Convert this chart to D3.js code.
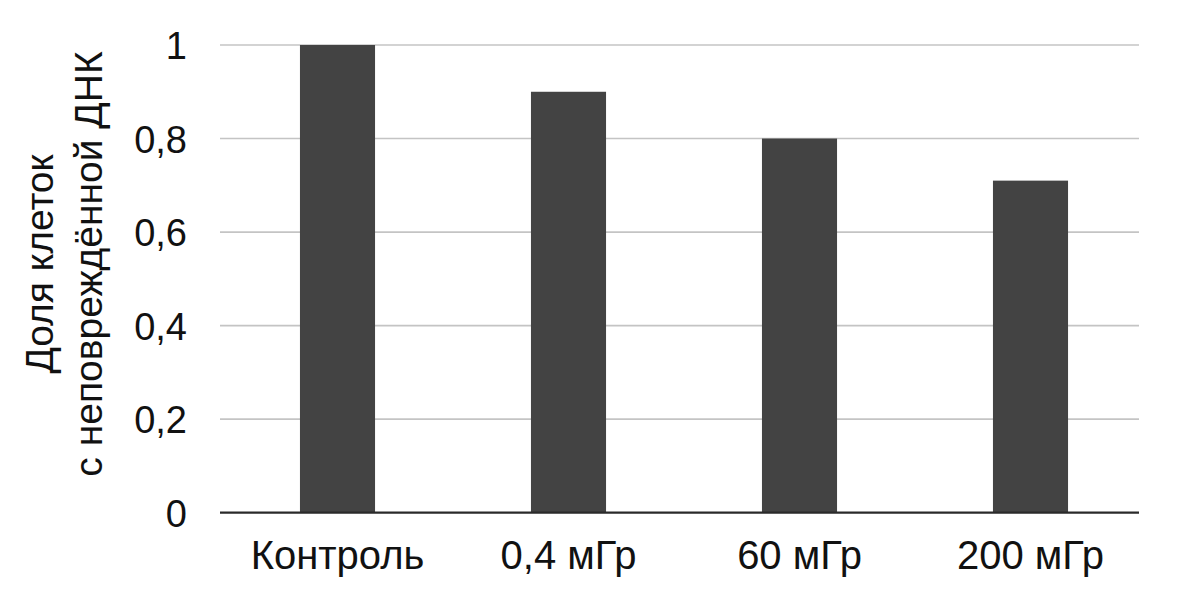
<!DOCTYPE html>
<html>
<head>
<meta charset="utf-8">
<script src="https://cdn.jsdelivr.net/npm/d3@7"></script>
<style>
  body { margin: 0; background: #fff; }
  text { font-family: "Liberation Sans", Arial, sans-serif; fill: #111; }
</style>
</head>
<body>
<div id="chart"></div>
<script>
const categories = ['Контроль', '0,4 мГр', '60 мГр', '200 мГр'];
const values = [1, 0.9, 0.8, 0.71];
const yTicks = [0, 0.2, 0.4, 0.6, 0.8, 1];
const yLabelLines = ['Доля клеток', 'с неповреждённой ДНК'];

const width = 1179;
const height = 593;
const margin = { top: 45, right: 40, bottom: 80, left: 220 };
const plotRight = 1139;

const svg = d3
  .select('#chart')
  .append('svg')
  .attr('width', width)
  .attr('height', height);

const xScale = d3
  .scaleBand()
  .domain(categories)
  .range([margin.left + 2, 1146])
  .paddingInner(0.675)
  .paddingOuter(0.3375);

const yScale = d3
  .scaleLinear()
  .domain([0, 1])
  .range([512.7, margin.top]);

// gridlines
svg
  .append('g')
  .selectAll('line')
  .data(yTicks.filter((d) => d > 0))
  .enter()
  .append('line')
  .attr('x1', margin.left)
  .attr('x2', plotRight)
  .attr('y1', (d) => yScale(d))
  .attr('y2', (d) => yScale(d))
  .attr('stroke', '#c4c4c4')
  .attr('stroke-width', 1.6);

// bars
svg
  .append('g')
  .selectAll('rect')
  .data(values)
  .enter()
  .append('rect')
  .attr('x', (d, i) => xScale(categories[i]))
  .attr('y', (d) => yScale(d))
  .attr('width', xScale.bandwidth())
  .attr('height', (d) => yScale(0) - yScale(d))
  .attr('fill', '#434343');

// y axis labels
const yAxis = svg
  .append('g')
  .attr('transform', `translate(${margin.left},0)`)
  .call(
    d3.axisLeft(yScale)
      .tickValues(yTicks)
      .tickSize(0)
      .tickPadding(33)
      .tickFormat((d) => (d === 0 || d === 1 ? String(d) : d.toFixed(1).replace('.', ',')))
  );
yAxis.select('.domain').remove();
yAxis.selectAll('text').style('font-size', '38px').attr('dy', '0.36em');

// baseline
svg
  .append('line')
  .attr('x1', margin.left)
  .attr('x2', plotRight)
  .attr('y1', yScale(0))
  .attr('y2', yScale(0))
  .attr('stroke', '#2a2a2a')
  .attr('stroke-width', 2.2);

// x labels
const xAxis = svg
  .append('g')
  .attr('transform', `translate(0,${yScale(0)})`)
  .call(d3.axisBottom(xScale).tickSize(0).tickPadding(0));
xAxis.select('.domain').remove();
xAxis
  .selectAll('text')
  .style('font-size', '40px')
  .attr('dy', null)
  .attr('y', 56);

// y title
const title = svg
  .append('text')
  .attr('transform', 'translate(0,264) rotate(-90)')
  .attr('text-anchor', 'middle')
  .style('font-size', '39px');

title
  .selectAll('tspan')
  .data(yLabelLines)
  .enter()
  .append('tspan')
  .attr('x', 0)
  .attr('y', (d, i) => 53 + i * 49)
  .text((d) => d);
</script>
</body>
</html>
